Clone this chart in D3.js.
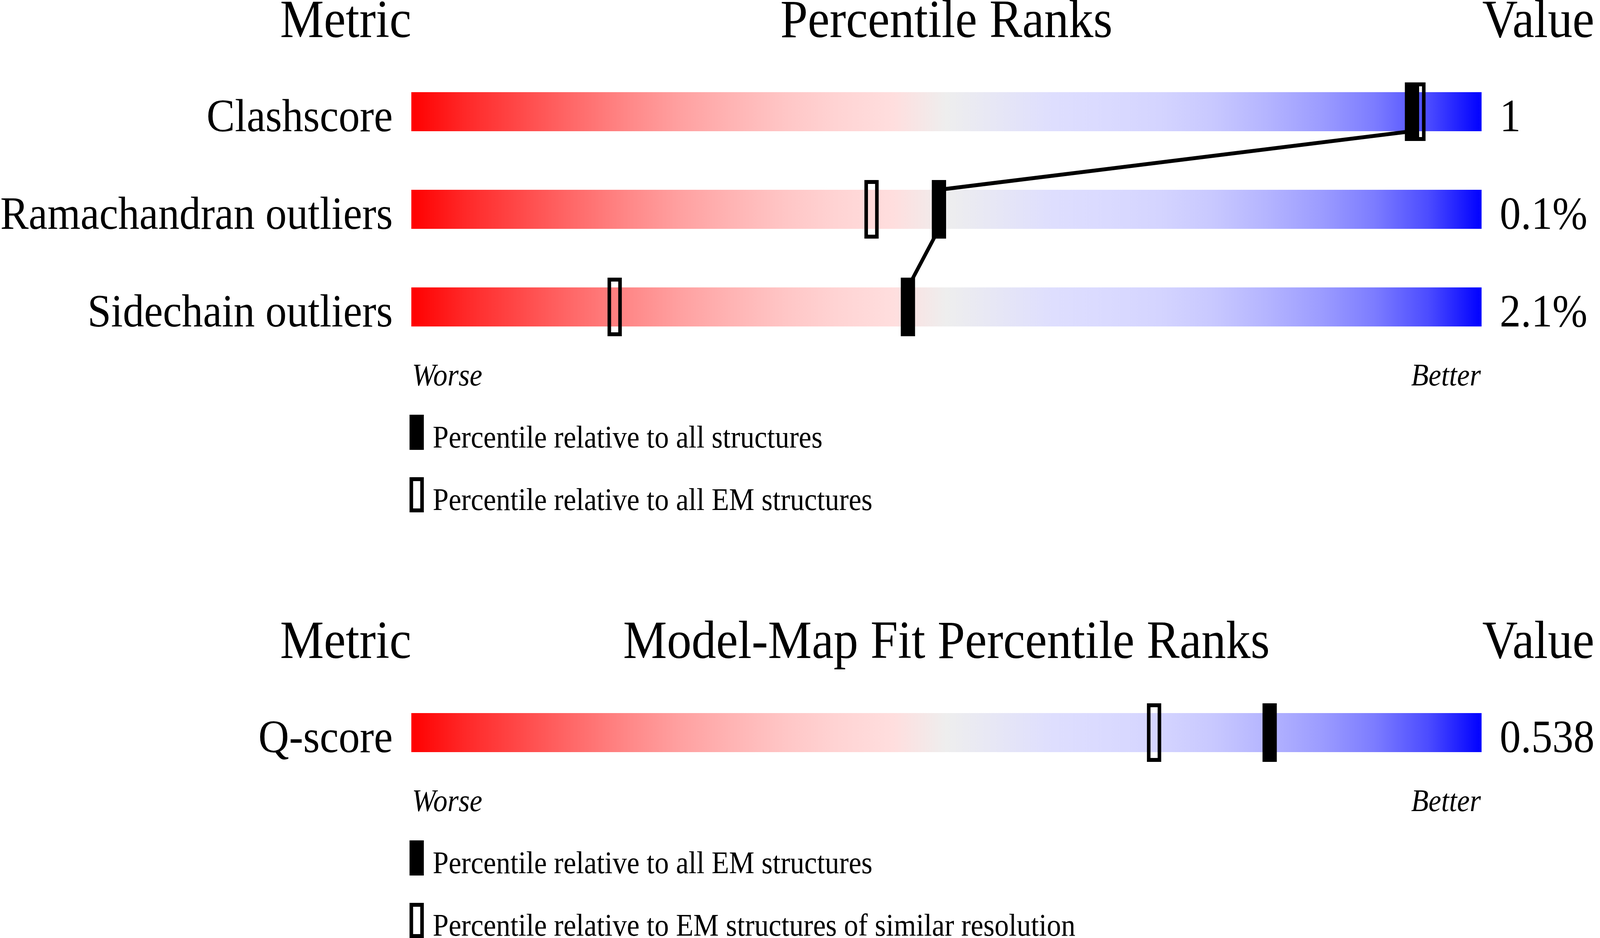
<!DOCTYPE html>
<html>
<head>
<meta charset="utf-8">
<script src="https://cdn.jsdelivr.net/npm/d3@7"></script>
<style>
  html, body { margin: 0; padding: 0; background: #fff; overflow: hidden; width: 100%; height: 100%; }
  #chart { width: 100vw; height: 100vh; }
  #chart svg { display: block; width: 100vw; height: 100vh; }
  svg text { font-family: "Liberation Serif", "Times New Roman", serif; fill: #000; }
</style>
</head>
<body>
<div id="chart"></div>
<script>
// geometry quality section
var metricNames = ['Clashscore', 'Ramachandran outliers', 'Sidechain outliers'];
var metricValues = ['1', '0.1%', '2.1%'];
var metricPctAll = [93.5, 49.3, 46.4];   // filled marker
var metricPctEM = [94.1, 43.0, 19.0];    // open marker
var metricLegend = ['Percentile relative to all structures', 'Percentile relative to all EM structures'];

// model-map fit section
var fitNames = ['Q-score'];
var fitValues = ['0.538'];
var fitPctAll = [80.2];                  // filled marker
var fitPctRes = [69.4];                  // open marker
var fitLegend = ['Percentile relative to all EM structures', 'Percentile relative to EM structures of similar resolution'];

// gradient stops: offset, colour
var gradOffsets = [0, 0.05, 0.1, 0.15, 0.2, 0.25, 0.3, 0.35, 0.4, 0.45, 0.5, 0.55, 0.6, 0.65, 0.7, 0.75, 0.8, 0.85, 0.9, 0.95, 1];
var gradColors = ['#ff0000', '#ff2828', '#ff4848', '#ff6868', '#ff8686', '#ffa0a0', '#ffb4b4', '#ffc6c6', '#ffd4d4', '#ffdede',
  '#eeeeee', '#e6e6f6', '#dedefe', '#dadaff', '#d4d4ff', '#c8c8ff', '#b4b4ff', '#9c9cff', '#7c7cff', '#4c4cff', '#0000ff'];

var width = 4485, height = 2402;
var barLeft = 1153, barRight = 4153;
var barH = 100, rowStep = 250, markerH = 150, markerW = 40, stroke = 10;

// drawn in a fixed 4485x2402 coordinate space, stretched to the window
var svg = d3.select('#chart').append('svg')
  .attr('viewBox', '0 0 ' + width + ' ' + height)
  .attr('preserveAspectRatio', 'none');

var grad = svg.append('defs').append('linearGradient')
  .attr('id', 'slider')
  .attr('x1', '0%').attr('x2', '100%')
  .attr('y1', '0%').attr('y2', '0%');
grad.selectAll('stop')
  .data(gradOffsets)
  .enter().append('stop')
  .attr('offset', function (d) { return d; })
  .attr('stop-color', function (d, i) { return gradColors[i]; });

var x = d3.scaleLinear().domain([0, 100]).range([barLeft, barRight]);

function drawSection(y0, title, names, values, pctFilled, pctOpen, legend) {
  var g = svg.append('g');
  var top = y0 + 236;

  // row index -> bar top
  var yi = d3.scaleLinear().domain([0, 1]).range([top, top + rowStep]);
  var y = function (name) { return yi(names.indexOf(name)); };

  // headers
  g.append('text').attr('x', barLeft).attr('y', y0 + 95)
    .attr('text-anchor', 'end').style('font-size', '138px').text('Metric');
  g.append('text').attr('x', (barLeft + barRight) / 2).attr('y', y0 + 95)
    .attr('text-anchor', 'middle').style('font-size', '138px').text(title);
  g.append('text').attr('x', barRight + 2).attr('y', y0 + 95)
    .attr('text-anchor', 'start').style('font-size', '138px').text('Value');

  // bars
  g.selectAll('rect.bar')
    .data(names)
    .enter().append('rect')
    .attr('class', 'bar')
    .attr('x', barLeft)
    .attr('y', function (d) { return y(d); })
    .attr('width', barRight - barLeft)
    .attr('height', barH)
    .attr('fill', 'url(#slider)');

  // metric names and values
  g.selectAll('text.name')
    .data(names)
    .enter().append('text')
    .attr('class', 'name')
    .attr('x', barLeft - 52)
    .attr('y', function (d) { return y(d) + barH; })
    .attr('text-anchor', 'end')
    .style('font-size', '119px')
    .text(function (d) { return d; });

  g.selectAll('text.value')
    .data(values)
    .enter().append('text')
    .attr('class', 'value')
    .attr('x', barRight + 51)
    .attr('y', function (d, i) { return y(names[i]) + barH; })
    .style('font-size', '118px')
    .text(function (d) { return d; });

  // connecting line between filled markers
  for (var i = 0; i < names.length - 1; i++) {
    g.append('line')
      .attr('x1', x(pctFilled[i]))
      .attr('y1', y(names[i]) + barH)
      .attr('x2', x(pctFilled[i + 1]))
      .attr('y2', y(names[i + 1]))
      .attr('stroke', '#000')
      .attr('stroke-width', stroke);
  }

  var off = (markerH - barH) / 2;

  // open markers
  g.selectAll('rect.open')
    .data(pctOpen)
    .enter().append('rect')
    .attr('class', 'open')
    .attr('x', function (d) { return x(d) - markerW / 2 + stroke / 2; })
    .attr('y', function (d, i) { return y(names[i]) - off + stroke / 2; })
    .attr('width', markerW - stroke)
    .attr('height', markerH - stroke)
    .attr('fill', 'none')
    .attr('stroke', '#000')
    .attr('stroke-width', stroke);

  // filled markers
  g.selectAll('rect.filled')
    .data(pctFilled)
    .enter().append('rect')
    .attr('class', 'filled')
    .attr('x', function (d) { return x(d) - markerW / 2; })
    .attr('y', function (d, i) { return y(names[i]) - off; })
    .attr('width', markerW)
    .attr('height', markerH)
    .attr('fill', '#000');

  var lastBottom = y(names[names.length - 1]) + barH;

  // worse / better
  g.append('text').attr('x', barLeft + 2).attr('y', lastBottom + 151)
    .style('font-size', '80px').style('font-style', 'italic').text('Worse');
  g.append('text').attr('x', barRight - 2).attr('y', lastBottom + 151)
    .attr('text-anchor', 'end')
    .style('font-size', '80px').style('font-style', 'italic').text('Better');

  // legend
  var lg = g.selectAll('g.legend')
    .data(legend)
    .enter().append('g')
    .attr('class', 'legend')
    .attr('transform', function (d, i) { return 'translate(0,' + (lastBottom + 310 + i * 160) + ')'; });

  lg.append('rect')
    .attr('x', function (d, i) { return i === 0 ? barLeft - 5 : barLeft; })
    .attr('y', function (d, i) { return i === 0 ? -84 : -79; })
    .attr('width', function (d, i) { return i === 0 ? markerW : markerW - stroke; })
    .attr('height', function (d, i) { return i === 0 ? 90 : 90 - stroke; })
    .attr('fill', function (d, i) { return i === 0 ? '#000' : 'none'; })
    .attr('stroke', function (d, i) { return i === 0 ? 'none' : '#000'; })
    .attr('stroke-width', stroke);

  lg.append('text')
    .attr('x', barLeft + 60)
    .attr('y', 0)
    .style('font-size', '80px')
    .text(function (d) { return d; });
}

drawSection(0, 'Percentile Ranks', metricNames, metricValues, metricPctAll, metricPctEM, metricLegend);
drawSection(1590, 'Model-Map Fit Percentile Ranks', fitNames, fitValues, fitPctAll, fitPctRes, fitLegend);
</script>
</body>
</html>
